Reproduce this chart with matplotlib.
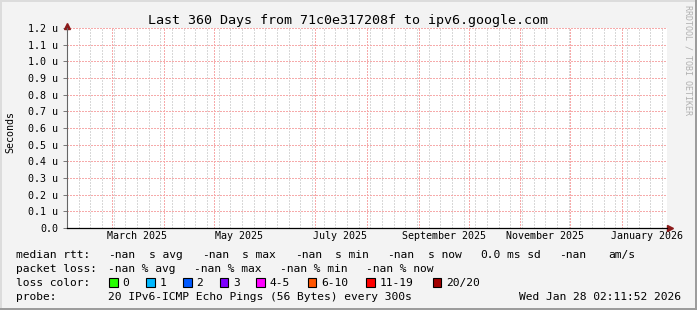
import matplotlib
matplotlib.use("Agg")
import matplotlib.pyplot as plt
import matplotlib.dates as mdates
import matplotlib.ticker as mticker
import matplotlib.transforms as mtrans
from matplotlib.patches import Rectangle
from datetime import datetime, timedelta

# data
end_time = datetime(2026, 1, 28, 2, 11, 52)
span_days = 360
y_max = 1.2  # micro-seconds
title = "Last 360 Days from 71c0e317208f to ipv6.google.com"

rtt_values = ["-nan", "-nan", "-nan", "-nan", "0.0", "-nan"]
rtt_units = ["s avg", "s max", "s min", "s now", "ms sd", "am/s"]
loss_values = ["-nan", "-nan", "-nan", "-nan"]
loss_units = ["% avg", "% max", "% min", "% now"]
loss_labels = ["0", "1", "2", "3", "4-5", "6-10", "11-19", "20/20"]
loss_colors = ["#26ff00", "#00b8ff", "#0059ff", "#7e00ff", "#ff00ff",
               "#ff5500", "#ff0000", "#a10000"]
probe_text = "20 IPv6-ICMP Echo Pings (56 Bytes) every 300s"
stamp_text = "Wed Jan 28 02:11:52 2026"

# layout (pixels)
W, H = 697, 310
MONO = "DejaVu Sans Mono"
rtt_val_x = [108, 202, 295, 387, 480, 559]
rtt_unit_x = [149, 242, 335, 428, 507, 608]
loss_x = [108, 194, 280, 366]
box_x = [109, 146, 183, 219.5, 256, 307.5, 366, 432.5]
RED_GRID = "#f6aaaa"
GRAY_GRID = "#d8d8d8"
DOTS = (0, (2, 2))


def fx(px):
    return px / W


def fy(py):
    return 1 - py / H


fig = plt.figure(figsize=(W / 100, H / 100), dpi=100, facecolor="#f3f3f3")

# frame around image
fig.patches.append(Rectangle((0, fy(2)), 1, 2 / H, transform=fig.transFigure, color="#dcdcdc", lw=0))
fig.patches.append(Rectangle((0, 0), 2 / W, 1, transform=fig.transFigure, color="#dcdcdc", lw=0))
fig.patches.append(Rectangle((fx(695), 0), 2 / W, 1, transform=fig.transFigure, color="#9c9c9c", lw=0))
fig.patches.append(Rectangle((0, 0), 1, 2 / H, transform=fig.transFigure, color="#9c9c9c", lw=0))

ax = fig.add_axes([fx(67), fy(228), fx(600), 200 / H])
ax.set_facecolor("white")

start_time = end_time - timedelta(days=span_days)
ax.set_xlim(start_time, end_time)
ax.set_ylim(0, y_max)

# x axis: weekly minor grid, monthly red grid, labels mid month every 2 months
ax.xaxis.remove_overlapping_locs = False
ax.xaxis.set_minor_locator(mdates.WeekdayLocator(byweekday=mdates.SU))
ax.xaxis.set_major_locator(mdates.MonthLocator(bymonth=(1, 3, 5, 7, 9, 11), bymonthday=16))
ax.xaxis.set_major_formatter(mdates.DateFormatter("%B %Y"))
ax.grid(which="minor", axis="x", color=GRAY_GRID, lw=0.72, ls=DOTS, antialiased=False)
for m in mdates.MonthLocator().tick_values(start_time, end_time):
    ax.axvline(m, color=RED_GRID, lw=0.72, ls=DOTS, zorder=1.5, antialiased=False)
ax.tick_params(axis="x", which="both", length=0, pad=2.5, labelsize=7.2)

# y axis
ax.yaxis.set_major_locator(mticker.MultipleLocator(0.1))
ax.yaxis.set_major_formatter(mticker.FuncFormatter(
    lambda v, _: "0.0" if abs(v) < 1e-9 else f"{v:.1f} u"))
ax.grid(which="major", axis="y", color=RED_GRID, lw=0.72, ls=DOTS, antialiased=False)
ax.tick_params(axis="y", length=3, width=0.7, color="#777777", pad=3.2, labelsize=7.2)

for lab in ax.get_xticklabels() + ax.get_yticklabels():
    lab.set_family(MONO)

for s in ("top", "right"):
    ax.spines[s].set_visible(False)
ax.spines["left"].set_color("#666666")
ax.spines["left"].set_linewidth(0.8)
ax.spines["bottom"].set_color("black")
ax.spines["bottom"].set_linewidth(0.9)

# arrows at axis ends
up = mtrans.offset_copy(ax.transAxes, fig=fig, x=0, y=2.5, units="dots")
ax.plot([0], [1], marker="^", ms=4.5, color="#8b1a1a", transform=up, clip_on=False)
ax.plot([0, 0], [0.99, 1.0], color="#666666", lw=0.8, transform=ax.transAxes, clip_on=False)
right = mtrans.offset_copy(ax.transAxes, fig=fig, x=3, y=0, units="dots")
ax.plot([1], [0], marker=">", ms=4.5, color="#8b1a1a", transform=right, clip_on=False)

# titles
fig.text(fx(347.5), fy(24), title, family=MONO, fontsize=9.6, ha="center", va="baseline")
fig.text(fx(10), fy(132), "Seconds", family=MONO, fontsize=7.2, rotation=90,
         ha="center", va="center")
fig.text(fx(688), fy(60), "RRDTOOL / TOBI OETIKER", family=MONO, fontsize=6,
         rotation=270, ha="center", va="center", color="#b0b0b0")

# legend rows
fs = 8.1
rows_y = [258, 272, 286, 300]
fig.text(fx(16), fy(rows_y[0]), "median rtt:", family=MONO, fontsize=fs, va="baseline")
for v, u, xv, xu in zip(rtt_values, rtt_units, rtt_val_x, rtt_unit_x):
    fig.text(fx(xv), fy(rows_y[0]), v, family=MONO, fontsize=fs, va="baseline")
    fig.text(fx(xu), fy(rows_y[0]), u, family=MONO, fontsize=fs, va="baseline")

fig.text(fx(16), fy(rows_y[1]), "packet loss:", family=MONO, fontsize=fs, va="baseline")
for v, u, xv in zip(loss_values, loss_units, loss_x):
    fig.text(fx(xv), fy(rows_y[1]), f"{v} {u}", family=MONO, fontsize=fs, va="baseline")

fig.text(fx(16), fy(rows_y[2]), "loss color:", family=MONO, fontsize=fs, va="baseline")
for lab, col, bx in zip(loss_labels, loss_colors, box_x):
    fig.patches.append(Rectangle((fx(bx), fy(286.5)), 8.5 / W, 8.5 / H,
                                 transform=fig.transFigure, facecolor=col,
                                 edgecolor="black", lw=0.8))
    fig.text(fx(bx + 13.5), fy(rows_y[2]), lab, family=MONO, fontsize=fs, va="baseline")

fig.text(fx(16), fy(rows_y[3]), "probe:", family=MONO, fontsize=fs, va="baseline")
fig.text(fx(108), fy(rows_y[3]), probe_text, family=MONO, fontsize=fs, va="baseline")
fig.text(fx(681), fy(rows_y[3]), stamp_text, family=MONO, fontsize=fs, va="baseline", ha="right")

fig.savefig("out.png", dpi=100, facecolor=fig.get_facecolor())
